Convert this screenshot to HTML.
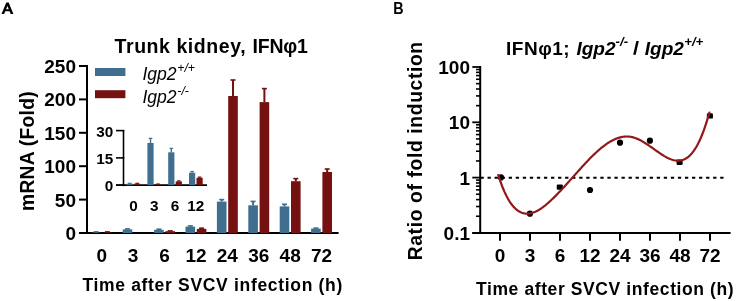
<!DOCTYPE html>
<html><head><meta charset="utf-8"><style>
html,body{margin:0;padding:0;background:#fff;}
body{width:736px;height:301px;overflow:hidden;}
svg{display:block;will-change:transform;}
text{font-family:"Liberation Sans",sans-serif;fill:#000;}
.b{font-weight:bold;}
.i{font-style:italic;font-weight:normal;}
.bi{font-style:italic;font-weight:bold;}
</style></head><body>
<svg width="736" height="301" viewBox="0 0 736 301">
<path d="M1.5,14 L6.3,2.5 L8.7,2.5 L13.4,14 L10.7,14 L9.56,11.2 L5.27,11.2 L4.1,14 Z M6.10,9.2 L8.74,9.2 L7.43,6.01 Z" fill="#000" fill-rule="evenodd"/>
<text x="114.6" y="53.0" class="b" font-size="19.5" letter-spacing="0.56">Trunk kidney,</text>
<text x="252.5" y="53.0" class="b" font-size="19.5" letter-spacing="-0.2">IFN&#966;1</text>
<line x1="87" y1="65" x2="87" y2="234" stroke="#000" stroke-width="2"/>
<line x1="79" y1="233" x2="338.6" y2="233" stroke="#000" stroke-width="2"/>
<line x1="79" y1="233.00" x2="88" y2="233.00" stroke="#000" stroke-width="2"/>
<text x="76" y="240.00" class="b" font-size="19" text-anchor="end">0</text>
<line x1="79" y1="199.60" x2="88" y2="199.60" stroke="#000" stroke-width="2"/>
<text x="76" y="206.60" class="b" font-size="19" text-anchor="end">50</text>
<line x1="79" y1="166.20" x2="88" y2="166.20" stroke="#000" stroke-width="2"/>
<text x="76" y="173.20" class="b" font-size="19" text-anchor="end">100</text>
<line x1="79" y1="132.80" x2="88" y2="132.80" stroke="#000" stroke-width="2"/>
<text x="76" y="139.80" class="b" font-size="19" text-anchor="end">150</text>
<line x1="79" y1="99.40" x2="88" y2="99.40" stroke="#000" stroke-width="2"/>
<text x="76" y="106.40" class="b" font-size="19" text-anchor="end">200</text>
<line x1="79" y1="66.00" x2="88" y2="66.00" stroke="#000" stroke-width="2"/>
<text x="76" y="73.00" class="b" font-size="19" text-anchor="end">250</text>
<rect x="91.30" y="232.70" width="9.6" height="0.30" fill="#3f6e8e"/>
<rect x="95.10" y="231.90" width="2" height="0.80" fill="#3f6e8e"/>
<rect x="93.60" y="231.10" width="5" height="1.6" fill="#3f6e8e"/>
<rect x="102.60" y="232.70" width="9.6" height="0.30" fill="#761111"/>
<rect x="106.40" y="231.90" width="2" height="0.80" fill="#761111"/>
<rect x="104.90" y="231.10" width="5" height="1.6" fill="#761111"/>
<text x="101.75" y="261.5" class="b" font-size="19" text-anchor="middle">0</text>
<rect x="122.70" y="229.40" width="9.6" height="3.60" fill="#3f6e8e"/>
<rect x="126.50" y="228.90" width="2" height="0.50" fill="#3f6e8e"/>
<rect x="125.00" y="228.10" width="5" height="1.6" fill="#3f6e8e"/>
<text x="133.15" y="261.5" class="b" font-size="19" text-anchor="middle">3</text>
<rect x="154.10" y="229.80" width="9.6" height="3.20" fill="#3f6e8e"/>
<rect x="157.90" y="229.20" width="2" height="0.60" fill="#3f6e8e"/>
<rect x="156.40" y="228.40" width="5" height="1.6" fill="#3f6e8e"/>
<rect x="165.40" y="231.20" width="9.6" height="1.80" fill="#761111"/>
<rect x="167.70" y="230.10" width="5" height="1.6" fill="#761111"/>
<text x="164.55" y="261.5" class="b" font-size="19" text-anchor="middle">6</text>
<rect x="185.50" y="226.60" width="9.6" height="6.40" fill="#3f6e8e"/>
<rect x="189.30" y="225.90" width="2" height="0.70" fill="#3f6e8e"/>
<rect x="187.80" y="225.10" width="5" height="1.6" fill="#3f6e8e"/>
<rect x="196.80" y="228.90" width="9.6" height="4.10" fill="#761111"/>
<rect x="200.60" y="228.20" width="2" height="0.70" fill="#761111"/>
<rect x="199.10" y="227.40" width="5" height="1.6" fill="#761111"/>
<text x="195.95" y="261.5" class="b" font-size="19" text-anchor="middle">12</text>
<rect x="216.90" y="201.60" width="9.6" height="31.40" fill="#3f6e8e"/>
<rect x="220.70" y="199.60" width="2" height="2.00" fill="#3f6e8e"/>
<rect x="219.20" y="198.80" width="5" height="1.6" fill="#3f6e8e"/>
<rect x="228.20" y="96.00" width="9.6" height="137.00" fill="#761111"/>
<rect x="232.00" y="80.00" width="2" height="16.00" fill="#761111"/>
<rect x="230.50" y="79.20" width="5" height="1.6" fill="#761111"/>
<text x="227.35" y="261.5" class="b" font-size="19" text-anchor="middle">24</text>
<rect x="248.30" y="205.30" width="9.6" height="27.70" fill="#3f6e8e"/>
<rect x="252.10" y="201.40" width="2" height="3.90" fill="#3f6e8e"/>
<rect x="250.60" y="200.60" width="5" height="1.6" fill="#3f6e8e"/>
<rect x="259.60" y="102.10" width="9.6" height="130.90" fill="#761111"/>
<rect x="263.40" y="88.60" width="2" height="13.50" fill="#761111"/>
<rect x="261.90" y="87.80" width="5" height="1.6" fill="#761111"/>
<text x="258.75" y="261.5" class="b" font-size="19" text-anchor="middle">36</text>
<rect x="279.70" y="206.40" width="9.6" height="26.60" fill="#3f6e8e"/>
<rect x="283.50" y="204.30" width="2" height="2.10" fill="#3f6e8e"/>
<rect x="282.00" y="203.50" width="5" height="1.6" fill="#3f6e8e"/>
<rect x="291.00" y="181.20" width="9.6" height="51.80" fill="#761111"/>
<rect x="294.80" y="178.60" width="2" height="2.60" fill="#761111"/>
<rect x="293.30" y="177.80" width="5" height="1.6" fill="#761111"/>
<text x="290.15" y="261.5" class="b" font-size="19" text-anchor="middle">48</text>
<rect x="311.10" y="228.60" width="9.6" height="4.40" fill="#3f6e8e"/>
<rect x="314.90" y="228.10" width="2" height="0.50" fill="#3f6e8e"/>
<rect x="313.40" y="227.30" width="5" height="1.6" fill="#3f6e8e"/>
<rect x="322.40" y="172.00" width="9.6" height="61.00" fill="#761111"/>
<rect x="326.20" y="169.00" width="2" height="3.00" fill="#761111"/>
<rect x="324.70" y="168.20" width="5" height="1.6" fill="#761111"/>
<text x="321.55" y="261.5" class="b" font-size="19" text-anchor="middle">72</text>
<text x="82.4" y="290.9" class="b" font-size="17.5" letter-spacing="0.68">Time after SVCV infection (h)</text>
<text transform="translate(34,211) rotate(-90)" x="0" y="0" class="b" font-size="19.3" letter-spacing="0.25">mRNA (Fold)</text>
<rect x="95" y="68" width="30.4" height="8" fill="#3f6e8e"/>
<rect x="95" y="90.2" width="30.4" height="8" fill="#761111"/>
<text x="142.4" y="80.1" class="i" font-size="17.6">Igp2<tspan dx="0.7" dy="-8" font-size="12.2">+/+</tspan></text>
<text x="142.4" y="102.5" class="i" font-size="17.6">Igp2<tspan dx="0.7" dy="-8" font-size="12.2">-/-</tspan></text>
<line x1="123.5" y1="130" x2="123.5" y2="186.2" stroke="#000" stroke-width="1.6"/>
<line x1="116" y1="185.2" x2="207" y2="185.2" stroke="#000" stroke-width="1.7"/>
<line x1="116" y1="185.20" x2="124.3" y2="185.20" stroke="#000" stroke-width="1.6"/>
<text x="113.2" y="191.10" class="b" font-size="15.3" text-anchor="end">0</text>
<line x1="116" y1="157.90" x2="124.3" y2="157.90" stroke="#000" stroke-width="1.6"/>
<text x="113.2" y="163.80" class="b" font-size="15.3" text-anchor="end">15</text>
<line x1="116" y1="130.60" x2="124.3" y2="130.60" stroke="#000" stroke-width="1.6"/>
<text x="113.2" y="136.50" class="b" font-size="15.3" text-anchor="end">30</text>
<rect x="126.60" y="183.70" width="6.2" height="1.50" fill="#3f6e8e"/>
<rect x="129.00" y="183.30" width="1.4" height="0.40" fill="#3f6e8e"/>
<rect x="127.90" y="182.70" width="3.6" height="1.2" fill="#3f6e8e"/>
<rect x="134.10" y="183.70" width="6.2" height="1.50" fill="#761111"/>
<rect x="136.50" y="183.30" width="1.4" height="0.40" fill="#761111"/>
<rect x="135.40" y="182.70" width="3.6" height="1.2" fill="#761111"/>
<text x="133.45" y="210.6" class="b" font-size="15.3" text-anchor="middle">0</text>
<rect x="147.40" y="143.00" width="6.2" height="42.20" fill="#3f6e8e"/>
<rect x="149.80" y="138.30" width="1.4" height="4.70" fill="#3f6e8e"/>
<rect x="148.70" y="137.70" width="3.6" height="1.2" fill="#3f6e8e"/>
<rect x="154.90" y="184.30" width="6.2" height="0.90" fill="#761111"/>
<rect x="157.30" y="184.00" width="1.4" height="0.30" fill="#761111"/>
<rect x="156.20" y="183.40" width="3.6" height="1.2" fill="#761111"/>
<text x="154.25" y="210.6" class="b" font-size="15.3" text-anchor="middle">3</text>
<rect x="168.20" y="152.30" width="6.2" height="32.90" fill="#3f6e8e"/>
<rect x="170.60" y="148.40" width="1.4" height="3.90" fill="#3f6e8e"/>
<rect x="169.50" y="147.80" width="3.6" height="1.2" fill="#3f6e8e"/>
<rect x="175.70" y="181.40" width="6.2" height="3.80" fill="#761111"/>
<rect x="178.10" y="180.90" width="1.4" height="0.50" fill="#761111"/>
<rect x="177.00" y="180.30" width="3.6" height="1.2" fill="#761111"/>
<text x="175.05" y="210.6" class="b" font-size="15.3" text-anchor="middle">6</text>
<rect x="189.00" y="172.70" width="6.2" height="12.50" fill="#3f6e8e"/>
<rect x="191.40" y="171.50" width="1.4" height="1.20" fill="#3f6e8e"/>
<rect x="190.30" y="170.90" width="3.6" height="1.2" fill="#3f6e8e"/>
<rect x="196.50" y="177.80" width="6.2" height="7.40" fill="#761111"/>
<rect x="198.90" y="177.10" width="1.4" height="0.70" fill="#761111"/>
<rect x="197.80" y="176.50" width="3.6" height="1.2" fill="#761111"/>
<text x="195.85" y="210.6" class="b" font-size="15.3" text-anchor="middle">12</text>
<text transform="translate(393.2,13.9) scale(0.92,1)" class="b" font-size="15.6">B</text>
<text x="506.1" y="54.7" class="b" font-size="19" letter-spacing="0.5">IFN&#966;1;</text>
<text x="576.4" y="54.6" class="bi" font-size="19">Igp2</text>
<text x="615.6" y="46.3" class="bi" font-size="13.2">-/-</text>
<polygon points="633.2,54.7 635.7,54.7 638.8,41.1 636.3,41.1" fill="#000"/>
<text x="644.8" y="54.6" class="bi" font-size="19">Igp2</text>
<text x="684.2" y="46.3" class="bi" font-size="13.2">+/+</text>
<line x1="480.2" y1="66" x2="480.2" y2="234" stroke="#000" stroke-width="2"/>
<line x1="472.3" y1="233" x2="730.6" y2="233" stroke="#000" stroke-width="2"/>
<line x1="472.3" y1="232.90" x2="481" y2="232.90" stroke="#000" stroke-width="1.8"/>
<text x="470" y="239.90" class="b" font-size="19" text-anchor="end">0.1</text>
<line x1="476" y1="216.25" x2="481" y2="216.25" stroke="#000" stroke-width="1.6"/>
<line x1="476" y1="206.52" x2="481" y2="206.52" stroke="#000" stroke-width="1.6"/>
<line x1="476" y1="199.61" x2="481" y2="199.61" stroke="#000" stroke-width="1.6"/>
<line x1="476" y1="194.25" x2="481" y2="194.25" stroke="#000" stroke-width="1.6"/>
<line x1="476" y1="189.87" x2="481" y2="189.87" stroke="#000" stroke-width="1.6"/>
<line x1="476" y1="186.17" x2="481" y2="186.17" stroke="#000" stroke-width="1.6"/>
<line x1="476" y1="182.96" x2="481" y2="182.96" stroke="#000" stroke-width="1.6"/>
<line x1="476" y1="180.13" x2="481" y2="180.13" stroke="#000" stroke-width="1.6"/>
<line x1="472.3" y1="177.60" x2="481" y2="177.60" stroke="#000" stroke-width="1.8"/>
<text x="470" y="184.60" class="b" font-size="19" text-anchor="end">1</text>
<line x1="476" y1="160.95" x2="481" y2="160.95" stroke="#000" stroke-width="1.6"/>
<line x1="476" y1="151.22" x2="481" y2="151.22" stroke="#000" stroke-width="1.6"/>
<line x1="476" y1="144.31" x2="481" y2="144.31" stroke="#000" stroke-width="1.6"/>
<line x1="476" y1="138.95" x2="481" y2="138.95" stroke="#000" stroke-width="1.6"/>
<line x1="476" y1="134.57" x2="481" y2="134.57" stroke="#000" stroke-width="1.6"/>
<line x1="476" y1="130.87" x2="481" y2="130.87" stroke="#000" stroke-width="1.6"/>
<line x1="476" y1="127.66" x2="481" y2="127.66" stroke="#000" stroke-width="1.6"/>
<line x1="476" y1="124.83" x2="481" y2="124.83" stroke="#000" stroke-width="1.6"/>
<line x1="472.3" y1="122.30" x2="481" y2="122.30" stroke="#000" stroke-width="1.8"/>
<text x="470" y="129.30" class="b" font-size="19" text-anchor="end">10</text>
<line x1="476" y1="105.65" x2="481" y2="105.65" stroke="#000" stroke-width="1.6"/>
<line x1="476" y1="95.92" x2="481" y2="95.92" stroke="#000" stroke-width="1.6"/>
<line x1="476" y1="89.01" x2="481" y2="89.01" stroke="#000" stroke-width="1.6"/>
<line x1="476" y1="83.65" x2="481" y2="83.65" stroke="#000" stroke-width="1.6"/>
<line x1="476" y1="79.27" x2="481" y2="79.27" stroke="#000" stroke-width="1.6"/>
<line x1="476" y1="75.57" x2="481" y2="75.57" stroke="#000" stroke-width="1.6"/>
<line x1="476" y1="72.36" x2="481" y2="72.36" stroke="#000" stroke-width="1.6"/>
<line x1="476" y1="69.53" x2="481" y2="69.53" stroke="#000" stroke-width="1.6"/>
<line x1="472.3" y1="67.00" x2="481" y2="67.00" stroke="#000" stroke-width="1.8"/>
<text x="470" y="74.00" class="b" font-size="19" text-anchor="end">100</text>
<line x1="481" y1="177.7" x2="724" y2="177.7" stroke="#000" stroke-width="2" stroke-dasharray="3.3 3.75" stroke-dashoffset="0.5"/>
<line x1="500" y1="233" x2="500" y2="240.8" stroke="#000" stroke-width="2"/>
<text x="500.00" y="261.5" class="b" font-size="19" text-anchor="middle">0</text>
<line x1="530" y1="233" x2="530" y2="240.8" stroke="#000" stroke-width="2"/>
<text x="530.00" y="261.5" class="b" font-size="19" text-anchor="middle">3</text>
<line x1="560" y1="233" x2="560" y2="240.8" stroke="#000" stroke-width="2"/>
<text x="560.00" y="261.5" class="b" font-size="19" text-anchor="middle">6</text>
<line x1="590" y1="233" x2="590" y2="240.8" stroke="#000" stroke-width="2"/>
<text x="590.00" y="261.5" class="b" font-size="19" text-anchor="middle">12</text>
<line x1="620" y1="233" x2="620" y2="240.8" stroke="#000" stroke-width="2"/>
<text x="620.00" y="261.5" class="b" font-size="19" text-anchor="middle">24</text>
<line x1="650" y1="233" x2="650" y2="240.8" stroke="#000" stroke-width="2"/>
<text x="650.00" y="261.5" class="b" font-size="19" text-anchor="middle">36</text>
<line x1="680" y1="233" x2="680" y2="240.8" stroke="#000" stroke-width="2"/>
<text x="680.00" y="261.5" class="b" font-size="19" text-anchor="middle">48</text>
<line x1="710" y1="233" x2="710" y2="240.8" stroke="#000" stroke-width="2"/>
<text x="710.00" y="261.5" class="b" font-size="19" text-anchor="middle">72</text>
<text x="476" y="294.6" class="b" font-size="17.5" letter-spacing="0.6">Time after SVCV infection (h)</text>
<text transform="translate(421.7,260.3) rotate(-90)" x="0" y="0" class="b" font-size="19.3" letter-spacing="0.63">Ratio of fold induction</text>
<circle cx="501" cy="177.4" r="3.1" fill="#000"/>
<circle cx="529.9" cy="213.7" r="3.1" fill="#000"/>
<rect x="556.75" y="184.40" width="6.1" height="5.4" rx="1.2" fill="#000"/>
<circle cx="590" cy="190" r="3.1" fill="#000"/>
<circle cx="620" cy="142.7" r="3.1" fill="#000"/>
<circle cx="649.9" cy="140.7" r="3.1" fill="#000"/>
<rect x="676.55" y="159.50" width="6.1" height="5.4" rx="1.2" fill="#000"/>
<rect x="706.85" y="113.20" width="6.1" height="5.4" rx="1.2" fill="#000"/>
<path d="M498.30,175.11 L499.30,178.20 L500.30,181.13 L501.30,183.90 L502.30,186.53 L503.30,189.00 L504.30,191.34 L505.30,193.53 L506.30,195.59 L507.30,197.51 L508.30,199.31 L509.31,200.98 L510.31,202.53 L511.31,203.96 L512.31,205.27 L513.31,206.47 L514.31,207.57 L515.31,208.56 L516.31,209.45 L517.31,210.25 L518.31,210.95 L519.31,211.56 L520.31,212.08 L521.31,212.52 L522.31,212.88 L523.31,213.17 L524.31,213.39 L525.31,213.53 L526.31,213.61 L527.31,213.63 L528.31,213.59 L529.31,213.49 L530.32,213.33 L531.32,213.11 L532.32,212.84 L533.32,212.52 L534.32,212.15 L535.32,211.73 L536.32,211.27 L537.32,210.76 L538.32,210.21 L539.32,209.62 L540.32,208.99 L541.32,208.32 L542.32,207.62 L543.32,206.88 L544.32,206.11 L545.32,205.32 L546.32,204.49 L547.32,203.64 L548.32,202.77 L549.32,201.87 L550.32,200.96 L551.33,200.02 L552.33,199.07 L553.33,198.10 L554.33,197.12 L555.33,196.13 L556.33,195.12 L557.33,194.10 L558.33,193.06 L559.33,192.02 L560.33,190.96 L561.33,189.90 L562.33,188.82 L563.33,187.74 L564.33,186.65 L565.33,185.55 L566.33,184.45 L567.33,183.34 L568.33,182.23 L569.33,181.11 L570.33,179.99 L571.33,178.87 L572.34,177.74 L573.34,176.62 L574.34,175.49 L575.34,174.37 L576.34,173.24 L577.34,172.12 L578.34,171.00 L579.34,169.89 L580.34,168.78 L581.34,167.67 L582.34,166.57 L583.34,165.48 L584.34,164.39 L585.34,163.32 L586.34,162.25 L587.34,161.19 L588.34,160.15 L589.34,159.11 L590.34,158.09 L591.34,157.08 L592.34,156.09 L593.35,155.11 L594.35,154.14 L595.35,153.20 L596.35,152.27 L597.35,151.36 L598.35,150.47 L599.35,149.60 L600.35,148.75 L601.35,147.92 L602.35,147.11 L603.35,146.33 L604.35,145.57 L605.35,144.84 L606.35,144.13 L607.35,143.45 L608.35,142.79 L609.35,142.17 L610.35,141.57 L611.35,141.00 L612.35,140.46 L613.35,139.96 L614.35,139.48 L615.36,139.04 L616.36,138.63 L617.36,138.25 L618.36,137.91 L619.36,137.61 L620.36,137.34 L621.36,137.10 L622.36,136.91 L623.36,136.75 L624.36,136.63 L625.36,136.55 L626.36,136.51 L627.36,136.51 L628.36,136.56 L629.36,136.65 L630.36,136.78 L631.36,136.95 L632.36,137.17 L633.36,137.43 L634.36,137.73 L635.36,138.08 L636.37,138.45 L637.37,138.87 L638.37,139.31 L639.37,139.79 L640.37,140.30 L641.37,140.83 L642.37,141.39 L643.37,141.97 L644.37,142.58 L645.37,143.20 L646.37,143.84 L647.37,144.50 L648.37,145.17 L649.37,145.85 L650.37,146.54 L651.37,147.24 L652.37,147.94 L653.37,148.65 L654.37,149.36 L655.37,150.07 L656.37,150.78 L657.38,151.48 L658.38,152.18 L659.38,152.87 L660.38,153.55 L661.38,154.21 L662.38,154.86 L663.38,155.48 L664.38,156.09 L665.38,156.67 L666.38,157.22 L667.38,157.74 L668.38,158.23 L669.38,158.68 L670.38,159.09 L671.38,159.46 L672.38,159.79 L673.38,160.07 L674.38,160.30 L675.38,160.48 L676.38,160.60 L677.38,160.67 L678.39,160.67 L679.39,160.61 L680.39,160.49 L681.39,160.30 L682.39,160.03 L683.39,159.69 L684.39,159.28 L685.39,158.78 L686.39,158.20 L687.39,157.53 L688.39,156.76 L689.39,155.90 L690.39,154.94 L691.39,153.87 L692.39,152.69 L693.39,151.39 L694.39,149.98 L695.39,148.44 L696.39,146.78 L697.39,144.98 L698.39,143.06 L699.40,140.99 L700.40,138.80 L701.40,136.46 L702.40,133.98 L703.40,131.36 L704.40,128.60 L705.40,125.69 L706.40,122.63 L707.40,119.42 L708.40,116.06 L709.40,112.55" fill="none" stroke="#921819" stroke-width="2.2" stroke-linecap="round" stroke-linejoin="round"/>
</svg>
</body></html>
